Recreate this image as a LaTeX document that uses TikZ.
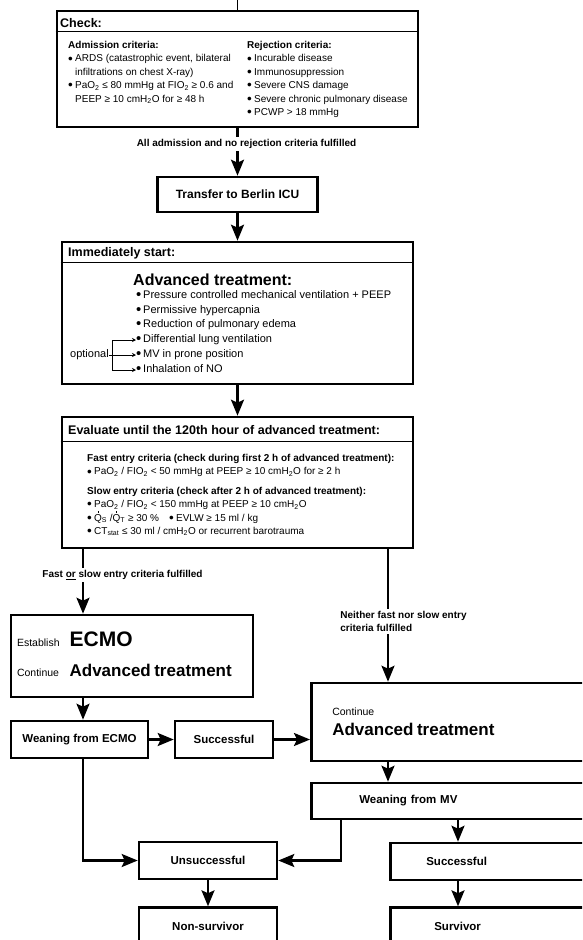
\documentclass[tikz,border=0pt]{standalone}
\usepackage{fontspec}
\setmainfont{Liberation Sans}
\usetikzlibrary{arrows.meta,positioning}

\newcommand{\bul}{\makebox[7pt][l]{\raisebox{-1.2pt}{\scalebox{1.35}{\textbullet}}}}
\newcommand{\bind}{\hspace*{7pt}}
\newcommand{\sbs}[1]{\textsubscript{#1}}
\newcommand{\fsz}[2]{\fontsize{#1}{#2}\selectfont}
\newcommand{\qdot}{\leavevmode\rlap{\hspace{3.3pt}\raisebox{8.4pt}{\rule{1.3pt}{1.3pt}}}Q}

\begin{document}
\begin{tikzpicture}[x=1pt,y=-1pt,
  box/.style={draw,line width=2.6pt,inner sep=0pt},
  hline/.style={line width=1.3pt},
  hdr/.style={font=\bfseries\fsz{12.5}{15},anchor=west,inner sep=0pt},
  txt/.style={align=left,anchor=north west,inner sep=0pt,font=\fsz{10}{13.4}},
  itm/.style={anchor=west,inner sep=0pt,font=\fsz{11}{14},text height=8pt,text depth=2.5pt},
  lab/.style={font=\bfseries\fsz{10}{13},fill=white,inner sep=2pt},
  boxlab/.style={font=\bfseries\fsz{11.5}{14}},
  bigt/.style={font=\bfseries\fsz{16}{19}},
  arr/.style={line width=2.3pt,-{Stealth[length=16pt,width=13pt,inset=3pt]}},
  sarr/.style={line width=0.9pt,-{Stealth[length=4pt,width=4pt]}}]
\useasboundingbox (0,0) rectangle (582,940);
\clip (0,0) rectangle (582,940);

% check
\node[box,minimum width=361pt,minimum height=116pt] (check) at (237.5,69) {};
\draw[hline] ([yshift=-22pt]check.north west) -- ([yshift=-22pt]check.north east);
\node[hdr] (chkhd) at (60,23) {Check:};
\node[txt] (adm) at (68,41) {{\bfseries Admission criteria:}\\
  \bul ARDS (catastrophic event, bilateral\\
  \bind infiltrations on chest X-ray)\\
  \bul PaO\sbs{2} ≤ 80 mmHg at FIO\sbs{2} ≥ 0.6 and\\
  \bind PEEP ≥ 10 cmH\sbs{2}O for ≥ 48 h};
\node[txt] (rej) at (247,41) {{\bfseries Rejection criteria:}\\
  \bul Incurable disease\\
  \bul Immunosuppression\\
  \bul Severe CNS damage\\
  \bul Severe chronic pulmonary disease\\
  \bul PCWP > 18 mmHg};
\coordinate (inflow) at (237.5,0);
\draw[line width=1.8pt] (inflow) -- (check);

% transfer and treatment
\node[box,boxlab,font=\bfseries\fsz{12}{14},minimum width=160pt,minimum height=35pt] (transfer) at (237.5,194.5) {Transfer to Berlin ICU};
\draw[arr] (check) -- node[lab,pos=0.33,xshift=9pt]{All admission and no rejection criteria fulfilled} (transfer);

\node[box,minimum width=351pt,minimum height=142pt] (start) at (237.5,313) {};
\draw[hline] ([yshift=-22pt]start.north west) -- ([yshift=-22pt]start.north east);
\node[hdr] (starthd) at (68,253) {Immediately start:};
\node[bigt,anchor=west,inner sep=0pt] (adv) at (133,280) {Advanced treatment:};
\node[itm] (it1) at (136,296) {\bul Pressure controlled mechanical ventilation + PEEP};
\node[itm] (it2) at (136,310.5) {\bul Permissive hypercapnia};
\node[itm] (it3) at (136,325) {\bul Reduction of pulmonary edema};
\node[itm] (opt1) at (136,340) {\bul Differential lung ventilation};
\node[itm] (opt2) at (136,355) {\bul MV in prone position};
\node[itm] (opt3) at (136,370) {\bul Inhalation of NO};
\node[itm] (optlab) at (70,355) {optional};
\draw[sarr] (optlab.east) -- (opt2.west);
\draw[sarr] ([xshift=4pt]optlab.east) |- (opt1.west);
\draw[sarr] ([xshift=4pt]optlab.east) |- (opt3.west);
\draw[arr] (transfer) -- (start);

% evaluation
\node[box,minimum width=351pt,minimum height=131pt] (eval) at (237.5,482.5) {};
\draw[hline] ([yshift=-26pt]eval.north west) -- ([yshift=-26pt]eval.north east);
\node[hdr] (evalhd) at (68,430) {Evaluate until the 120th hour of advanced treatment:};
\node[txt,font=\fsz{10}{13.4}] (crit) at (87,454) {{\bfseries Fast entry criteria (check during first 2 h of advanced treatment):}\\
  \bul PaO\sbs{2} / FIO\sbs{2} < 50 mmHg at PEEP ≥ 10 cmH\sbs{2}O for ≥ 2 h\\[6pt]
  {\bfseries Slow entry criteria (check after 2 h of advanced treatment):}\\
  \bul PaO\sbs{2} / FIO\sbs{2} < 150 mmHg at PEEP ≥ 10 cmH\sbs{2}O\\
  \bul \qdot\sbs{S} /\qdot\sbs{T} ≥ 30 \%\quad\bul EVLW ≥ 15 ml / kg\\
  \bul CT\sbs{stat} ≤ 30 ml / cmH\sbs{2}O or recurrent barotrauma};
\draw[arr] (start) -- (eval);

% ECMO branch
\coordinate (lcol) at (83,0);
\coordinate (rcol) at (388,0);
\coordinate (mvx) at (341,0);
\coordinate (scol) at (458,0);
\node[box,text width=230pt,align=left,inner xsep=6pt,minimum height=82pt,font=\fsz{10.5}{12}] (ecmo) at (132,656)
  {\begin{tabular}{@{}l@{\hspace{10pt}}l@{}}
   Establish & {\bfseries\fsz{21}{24}ECMO}\\[14pt]
   Continue & {\bfseries\fsz{17}{20}Advanced treatment}
   \end{tabular}};
\node[box,boxlab,minimum width=137pt,minimum height=37pt] (wecmo) at (79.5,739.5) {Weaning from ECMO};
\node[box,boxlab,minimum width=98pt,minimum height=37pt] (succ1) at (224,739.5) {Successful};
\node[box,anchor=west,text width=260pt,align=left,inner xsep=21pt,minimum height=78pt,font=\fsz{10.5}{12}] (cont) at (310,722)
  {Continue\\[7pt]{\bfseries\fsz{17}{20}Advanced treatment}};
\node[box,boxlab,anchor=west,text width=240pt,align=left,inner xsep=48pt,minimum height=36pt] (weanmv) at (310,801) {Weaning from MV};
\node[box,boxlab,minimum width=138pt,minimum height=37pt] (unsucc) at (208,860.5) {Unsuccessful};
\node[box,boxlab,minimum width=138pt,minimum height=37pt,below=26pt of unsucc] (nonsurv) {Non-survivor};
\node[box,boxlab,anchor=west,text width=200pt,align=left,inner xsep=36pt,minimum height=37pt] (succ2) at (389,861.5) {Successful};
\node[box,boxlab,text width=200pt,align=left,inner xsep=44pt,minimum height=37pt,below=25pt of succ2.south west,anchor=north west] (surv) {Survivor};

\draw[arr] (eval.south -| lcol) -- node[lab,pos=0.4,xshift=39.5pt]{Fast \underline{or} slow entry criteria fulfilled} (ecmo.north -| lcol);
\draw[arr] (eval.south -| rcol) -- node[lab,align=left,pos=0.545,xshift=15.5pt]{Neither fast nor slow entry\\criteria fulfilled} (cont.north -| rcol);
\draw[arr] (ecmo.south -| lcol) -- (wecmo.north -| lcol);
\draw[arr] (wecmo) -- (succ1);
\draw[arr] (succ1.east) -- (succ1.east -| cont.west);
\draw[arr] (cont.south -| rcol) -- (weanmv.north -| rcol);
\draw[arr] (wecmo.south -| lcol) |- (unsucc);
\draw[arr] (weanmv.south -| mvx) |- (unsucc);
\draw[arr] (weanmv.south -| scol) -- (succ2.north -| scol);
\draw[arr] (succ2.south -| scol) -- (surv.north -| scol);
\draw[arr] (unsucc) -- (nonsurv);
\end{tikzpicture}
\end{document}
